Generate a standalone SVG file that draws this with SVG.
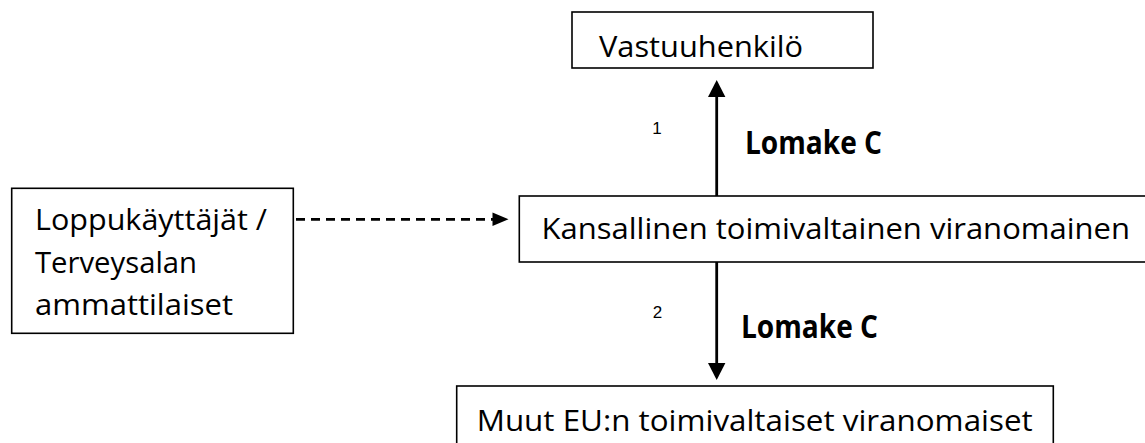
<svg xmlns="http://www.w3.org/2000/svg" width="1145" height="443" viewBox="0 0 1145 443">
<style>
.box{fill:#fff;stroke:#000;stroke-width:1.6}
.t{font-family:"Open Sans","Noto Sans","Liberation Sans",sans-serif;font-size:29.5px;fill:#000}
.b{font-family:"Open Sans","Noto Sans","Liberation Sans",sans-serif;font-size:32px;font-weight:bold;fill:#000}
.n{font-family:"Liberation Sans",Arial,sans-serif;font-size:17px;fill:#000}
.ln{stroke:#000;stroke-width:2.8;fill:none}
.dash{stroke:#000;stroke-width:2.8;fill:none;stroke-dasharray:9 6}
.head{fill:#000}
</style>
<rect width="1145" height="443" fill="#fff"/>
<g id="connectors">
<line class="ln" x1="716.7" y1="196" x2="716.7" y2="95"/>
<polygon class="head" points="716.7,80 708,97 725.4,97"/>
<line class="ln" x1="716.7" y1="262" x2="716.7" y2="366"/>
<polygon class="head" points="716.7,380 708,363 725.4,363"/>
<line class="dash" x1="296" y1="219.3" x2="493" y2="219.3"/>
<polygon class="head" points="508.5,219.3 492.5,212.6 492.5,226"/>
<text class="n" x="657" y="134" text-anchor="middle">1</text>
<text class="b" x="745" y="153.5" textLength="137" lengthAdjust="spacingAndGlyphs">Lomake C</text>
<text class="n" x="657.5" y="318" text-anchor="middle">2</text>
<text class="b" x="741" y="338" textLength="137" lengthAdjust="spacingAndGlyphs">Lomake C</text>
</g>
<g id="node-vastuuhenkilo">
<rect class="box" x="572" y="12" width="301" height="56"/>
<text class="t" x="599" y="57" textLength="204" lengthAdjust="spacingAndGlyphs">Vastuuhenkilö</text>
</g>
<g id="node-loppukayttajat">
<rect class="box" x="11.7" y="188.3" width="281.6" height="145"/>
<text class="t" x="35" y="230" textLength="232" lengthAdjust="spacingAndGlyphs">Loppukäyttäjät /</text>
<text class="t" x="35" y="272.5" textLength="162" lengthAdjust="spacingAndGlyphs">Terveysalan</text>
<text class="t" x="35" y="315" textLength="198" lengthAdjust="spacingAndGlyphs">ammattilaiset</text>
</g>
<g id="node-kansallinen">
<rect class="box" x="519.3" y="196" width="630" height="66"/>
<text class="t" x="541.5" y="238.5" textLength="588.5" lengthAdjust="spacingAndGlyphs">Kansallinen toimivaltainen viranomainen</text>
</g>
<g id="node-muut">
<rect class="box" x="456.7" y="386" width="596.6" height="62"/>
<text class="t" x="476.7" y="431" textLength="556" lengthAdjust="spacingAndGlyphs">Muut EU:n toimivaltaiset viranomaiset</text>
</g>
</svg>
